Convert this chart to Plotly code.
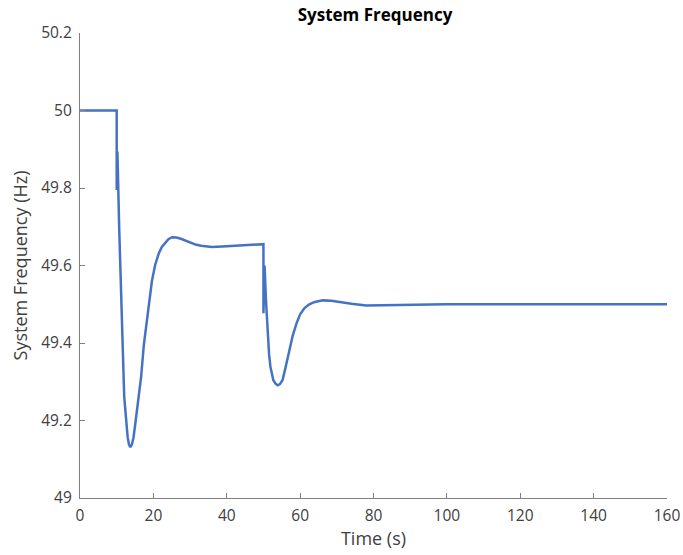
import plotly.graph_objects as go

# Data
time_s = [0, 10, 10, 10.2, 10.7, 11.27, 11.5, 11.73, 12.05, 12.36, 12.68, 12.99, 13.35, 13.72, 14.15, 14.6, 15.05,
          15.55, 16.1, 16.64, 17.4, 18.4, 19.0, 19.6, 20.5, 21.5, 22.3, 23.2, 24.1, 25.1, 26.3, 27.5, 28.8, 30.1,
          31.5, 33.0, 36.0, 40.0, 45.0, 50.0,
          50.0, 50.3, 50.75, 51.2, 51.55, 51.9, 52.3, 52.7, 53.3, 53.9, 54.5, 55.2, 56.1, 57.0, 58.0, 59.0, 60.0,
          61.2, 62.5, 64.0, 66.2, 68.5, 70.5, 74.0, 78.0, 84.0, 90.0, 100.0, 120.0, 140.0, 160.0]
freq_hz = [50.0, 50.0, 49.795, 49.894, 49.69, 49.485, 49.39, 49.311, 49.262, 49.226, 49.188, 49.157, 49.138, 49.131, 49.138, 49.157, 49.19,
           49.226, 49.265, 49.311, 49.395, 49.47, 49.52, 49.56, 49.602, 49.632, 49.648, 49.658, 49.668, 49.673, 49.672, 49.669, 49.664, 49.658,
           49.654, 49.651, 49.648, 49.650, 49.653, 49.655,
           49.477, 49.60, 49.50, 49.408, 49.37, 49.339, 49.318, 49.304, 49.295, 49.291, 49.294, 49.304, 49.34, 49.38, 49.42, 49.45, 49.474,
           49.49, 49.50, 49.506, 49.510, 49.509, 49.506, 49.501, 49.497, 49.498, 49.500, 49.500, 49.500, 49.500, 49.500]

x_ticks = [0, 20, 40, 60, 80, 100, 120, 140, 160]
y_ticks = [49, 49.2, 49.4, 49.6, 49.8, 50, 50.2]
y_tick_labels = ["49", "49.2", "49.4", "49.6", "49.8", "50", "50.2"]

fig = go.Figure()
fig.add_trace(go.Scatter(x=time_s, y=freq_hz, mode="lines",
                         line=dict(color="#4472C4", width=2.5), showlegend=False))

fam = "Open Sans, Liberation Sans, sans-serif"
tick_font = dict(family=fam, size=15.5, color="#404040")
title_font = dict(family=fam, size=18, color="#404040")
W, H = 683, 555
fig.update_layout(
    width=W, height=H,
    margin=dict(l=80, r=16, t=33, b=57, autoexpand=False),
    paper_bgcolor="white", plot_bgcolor="white",
    title=dict(text="<b>System Frequency</b>", x=375 / W, xanchor="center",
               y=1 - 15 / H, yanchor="middle",
               font=dict(family=fam, size=17, color="black")),
    xaxis=dict(range=[0, 160], tickvals=x_ticks, ticks="inside", ticklen=5, tickcolor="#808080",
               showline=True, linecolor="#808080", linewidth=1.2, showgrid=False, zeroline=False,
               automargin=False, tickfont=tick_font, ticklabelstandoff=3,
               title=dict(text="Time (s)", font=title_font, standoff=6)),
    yaxis=dict(range=[49, 50.2], tickvals=y_ticks, ticktext=y_tick_labels, ticks="inside", ticklen=5,
               tickcolor="#808080", showline=True, linecolor="#808080", linewidth=1.2, showgrid=False,
               zeroline=False, automargin=False, tickfont=tick_font, ticklabelstandoff=4,
               title=dict(text="System Frequency (Hz)", font=title_font, standoff=8)),
)

# Remove the page's default body margin so the figure fills the window exactly; hide the modebar
fig.write_html("out.html", config={"displayModeBar": False},
               post_script="document.body.style.margin='0';document.body.style.overflow='hidden';")
